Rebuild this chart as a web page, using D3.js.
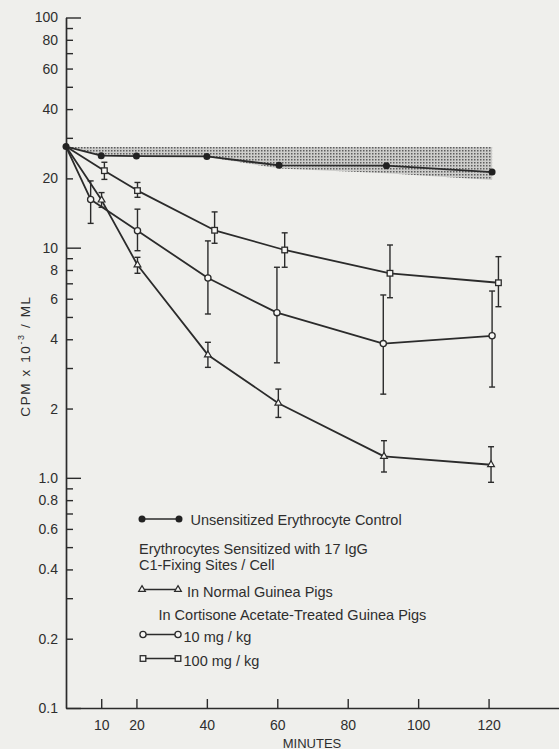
<!DOCTYPE html>
<html>
<head>
<meta charset="utf-8">
<script src="https://cdn.jsdelivr.net/npm/d3@7"></script>
<style>
  html, body { margin: 0; padding: 0; background: #efefec; }
  svg { display: block; }
  text { font-family: "Liberation Sans", Arial, sans-serif; fill: #2e2e2e; }
</style>
</head>
<body>
<div id="chart"></div>
<script>
// minutes / CPM x 10^-3 per ML
const controlTime  = [0, 10, 20, 40, 60.5, 91, 121];
const controlValue = [27.5, 25.1, 25.0, 24.9, 22.8, 22.7, 21.3];
const bandUpper    = [27.4, 27.4, 27.4, 27.4, 27.4, 27.4, 27.4];
const bandLower    = [27.5, 25.1, 25.0, 24.8, 22.1, 21.05, 19.7];

const normalTime  = [0, 10.1, 20.3, 40.3, 60.3, 90.3, 120.7];
const normalValue = [27.5, 16.1, 8.41, 3.42, 2.11, 1.24, 1.14];
const normalLow   = [null, 14.97, 7.74, 3.02, 1.83, 1.06, 0.956];
const normalHigh  = [null, 17.35, 9.08, 3.88, 2.43, 1.45, 1.365];

const dose10Time  = [0, 7.0, 20.3, 40.3, 59.9, 90.1, 121];
const dose10Value = [27.5, 16.2, 11.85, 7.38, 5.22, 3.83, 4.14];
const dose10Low   = [null, 12.75, 9.7, 5.15, 3.16, 2.31, 2.48];
const dose10High  = [null, 19.5, 14.7, 10.7, 8.22, 6.23, 6.48];

const dose100Time  = [0, 10.9, 20.3, 42.2, 62.1, 92, 122.8];
const dose100Value = [27.5, 21.6, 17.7, 11.9, 9.77, 7.74, 7.04];
const dose100Low   = [null, 19.8, 16.55, 10.45, 8.22, 6.06, 5.54];
const dose100High  = [null, 23.5, 19.2, 14.3, 11.6, 10.27, 9.14];

const xTicks    = [10, 20, 40, 60, 80, 100, 120];
const yLabelled = [100, 80, 60, 40, 20, 10, 8, 6, 4, 2, 1, 0.8, 0.6, 0.4, 0.2, 0.1];
const yMajor    = [100, 10, 1, 0.1];

const
  totalWidth = 559,
  totalHeight = 749;
const ink = '#2b2b2b';

const svg = d3.select('#chart').append('svg')
  .attr('width', totalWidth)
  .attr('height', totalHeight);

svg.append('rect')
  .attr('width', totalWidth)
  .attr('height', totalHeight)
  .attr('fill', '#efefec');

//--------------------- Scales --------------------------------------------------
const xScale = d3.scaleLinear().domain([0, 140]).range([66, 559]);
const yScale = d3.scaleLog().domain([0.1, 100]).range([708, 17.5]);

//--------------------- Axes ----------------------------------------------------
let yTickValues = [];
[0.1, 1, 10].forEach(function(dec){
  for (let m = 1; m <= 9; m++) yTickValues.push(+(m*dec).toFixed(1));
});
yTickValues.push(100);

const yAxis = d3.axisLeft(yScale)
  .tickValues(yTickValues)
  .tickSizeInner(-7)
  .tickSizeOuter(0)
  .tickPadding(8)
  .tickFormat(function(d){
    if (!yLabelled.includes(d)) return '';
    if (d === 1) return '1.0';
    return d < 1 ? d.toFixed(1) : String(d);
  });

const yAxisView = svg.append('g')
  .attr('transform', 'translate(' + xScale(0) + ',0)')
  .call(yAxis);
yAxisView.selectAll('.tick')
  .filter(function(d){ return yMajor.includes(d); })
  .select('line')
  .attr('x2', 15);

const xAxis = d3.axisBottom(xScale)
  .tickValues(xTicks)
  .tickSizeInner(-9)
  .tickSizeOuter(0)
  .tickPadding(12);

const xAxisView = svg.append('g')
  .attr('transform', 'translate(0,' + yScale(0.1) + ')')
  .call(xAxis);

[yAxisView, xAxisView].forEach(function(g){
  g.attr('font-family', null).attr('font-size', null);
  g.selectAll('path').attr('stroke', ink).attr('stroke-width', 1.7);
  g.selectAll('line').attr('stroke', ink).attr('stroke-width', 1.4);
  g.selectAll('text').attr('font-size', 14).attr('fill', '#2e2e2e');
});

svg.append('text')
  .attr('x', 312)
  .attr('y', 747.5)
  .attr('text-anchor', 'middle')
  .attr('font-size', 13)
  .text('MINUTES');

const yTitle = svg.append('text')
  .attr('transform', 'translate(30,356) rotate(-90)')
  .attr('text-anchor', 'middle')
  .attr('font-size', 13.5)
  .attr('letter-spacing', 1.6);
yTitle.append('tspan').text('CPM x 10');
yTitle.append('tspan').attr('font-size', 9).attr('dy', -6).text('-3');
yTitle.append('tspan').attr('dy', 6).text(' / ML');

//--------------------- Shaded control range --------------------------------------
const defs = svg.append('defs');
const pattern = defs.append('pattern')
  .attr('id', 'stipple')
  .attr('width', 3)
  .attr('height', 3)
  .attr('patternUnits', 'userSpaceOnUse');
pattern.append('rect').attr('width', 3).attr('height', 3).attr('fill', '#cdcdcb');
pattern.append('rect').attr('width', 1.5).attr('height', 1.5).attr('fill', '#5e5e5e');

const band = d3.area()
  .x(function(i){ return xScale(controlTime[i]); })
  .y0(function(i){ return yScale(bandLower[i]); })
  .y1(function(i){ return yScale(bandUpper[i]); });

svg.append('path')
  .attr('d', band(d3.range(controlTime.length)))
  .attr('fill', 'url(#stipple)');

//--------------------- Series ------------------------------------------------------
const series = [
  {time: controlTime, value: controlValue, low: null, high: null, marker: 'filled'},
  {time: dose100Time, value: dose100Value, low: dose100Low, high: dose100High, marker: 'square'},
  {time: dose10Time, value: dose10Value, low: dose10Low, high: dose10High, marker: 'circle'},
  {time: normalTime, value: normalValue, low: normalLow, high: normalHigh, marker: 'triangle'}
];

const line = d3.line()
  .x(function(p){ return xScale(p.t); })
  .y(function(p){ return yScale(p.v); });

function points(s){
  return s.time.map(function(t, i){
    return {t: t, v: s.value[i], lo: s.low ? s.low[i] : null, hi: s.high ? s.high[i] : null};
  });
}

const lineGroup = svg.append('g');
series.forEach(function(s){
  lineGroup.append('path')
    .attr('d', line(points(s)))
    .attr('fill', 'none')
    .attr('stroke', ink)
    .attr('stroke-width', 1.8)
    .attr('stroke-linejoin', 'round');
});

const errGroup = svg.append('g')
  .attr('stroke', ink)
  .attr('stroke-width', 1.4);
series.forEach(function(s){
  points(s).filter(function(p){ return p.lo !== null; }).forEach(function(p){
    const px = xScale(p.t);
    errGroup.append('line')
      .attr('x1', px).attr('x2', px)
      .attr('y1', yScale(p.lo)).attr('y2', yScale(p.hi));
    [p.lo, p.hi].forEach(function(v){
      errGroup.append('line')
        .attr('x1', px - 3).attr('x2', px + 3)
        .attr('y1', yScale(v)).attr('y2', yScale(v));
    });
  });
});

function drawMarker(g, kind, px, py){
  if (kind === 'filled') {
    g.append('circle').attr('cx', px).attr('cy', py).attr('r', 3.5)
      .attr('fill', '#222');
  } else if (kind === 'circle') {
    g.append('circle').attr('cx', px).attr('cy', py).attr('r', 3.1)
      .attr('fill', '#f7f7f5').attr('stroke', ink).attr('stroke-width', 1.3);
  } else if (kind === 'square') {
    g.append('rect').attr('x', px - 2.8).attr('y', py - 2.8)
      .attr('width', 5.6).attr('height', 5.6)
      .attr('fill', '#f7f7f5').attr('stroke', ink).attr('stroke-width', 1.3);
  } else {
    g.append('path')
      .attr('transform', 'translate(' + px + ',' + py + ')')
      .attr('d', d3.symbol().type(d3.symbolTriangle).size(20)())
      .attr('fill', '#f7f7f5').attr('stroke', ink).attr('stroke-width', 1.2);
  }
}

const markGroup = svg.append('g');
series.slice(1).forEach(function(s){
  points(s).slice(1).forEach(function(p){
    drawMarker(markGroup, s.marker, xScale(p.t), yScale(p.v));
  });
});
points(series[0]).forEach(function(p){
  drawMarker(markGroup, 'filled', xScale(p.t), yScale(p.v));
});

//--------------------- Legend ------------------------------------------------------
const legend = svg.append('g').attr('font-size', 14.5);

function legendKey(kind, x1, x2, ky){
  legend.append('line')
    .attr('x1', x1).attr('x2', x2).attr('y1', ky).attr('y2', ky)
    .attr('stroke', ink).attr('stroke-width', 1.6);
  drawMarker(legend, kind, x1, ky);
  drawMarker(legend, kind, x2, ky);
}

legendKey('filled', 142, 179, 519);
legend.append('text').attr('x', 190.5).attr('y', 525)
  .text('Unsensitized Erythrocyte Control');
legend.append('text').attr('x', 139).attr('y', 553.5)
  .text('Erythrocytes Sensitized with 17 IgG');
legend.append('text').attr('x', 139).attr('y', 570)
  .text('C1-Fixing Sites / Cell');
legendKey('triangle', 142, 178, 589.5);
legend.append('text').attr('x', 187).attr('y', 596.5)
  .text('In Normal Guinea Pigs');
legend.append('text').attr('x', 158.5).attr('y', 619.5)
  .text('In Cortisone Acetate-Treated Guinea Pigs');
legendKey('circle', 143, 178, 634.5);
legend.append('text').attr('x', 183.5).attr('y', 641.5)
  .text('10 mg / kg');
legendKey('square', 143, 178, 658.5);
legend.append('text').attr('x', 183.5).attr('y', 666)
  .text('100 mg / kg');
</script>
</body>
</html>
